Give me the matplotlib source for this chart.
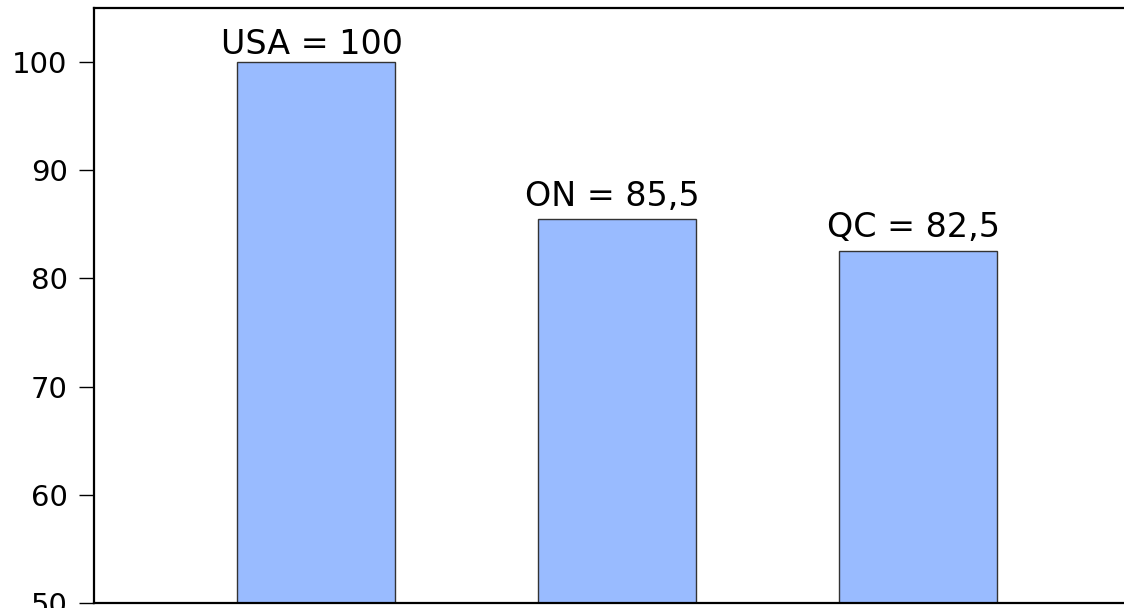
import matplotlib
matplotlib.use("Agg")
from matplotlib import pyplot as plt

regions = ["USA", "ON", "QC"]
values = [100, 85.5, 82.5]
labels = ["USA = 100", "ON = 85,5", "QC = 82,5"]
yticks = [50, 60, 70, 80, 90, 100]

# gap between bar top and label baseline, in points
label_gap = [6, 9.5, 10.5]

plt.rcParams['font.family'] = ['DejaVu Sans']

fig = plt.figure(figsize=(11.24, 6.08), dpi=100)
ax = fig.add_axes([94 / 1124, 5 / 608, 1030 / 1124, 595 / 608])

x = list(range(len(regions)))
ax.bar(x, values, width=0.525, color="#99bbff", edgecolor="#333333", linewidth=1)

for i in range(len(x)):
    ax.annotate(labels[i], (x[i], values[i]), xytext=(-3, label_gap[i]),
                textcoords="offset points", ha="center", va="baseline",
                fontsize=24, color="black")

ax.set_xlim(-0.7375, 2.686)
ax.set_ylim(50, 105)
ax.set_yticks(yticks)
ax.set_xticks([])
ax.tick_params(axis='y', direction='out', length=11, width=1, pad=8, labelsize=21)
ax.spines['right'].set_visible(False)
for s in ['left', 'top', 'bottom']:
    ax.spines[s].set_linewidth(1.6)

fig.savefig("out.png", dpi=100)
